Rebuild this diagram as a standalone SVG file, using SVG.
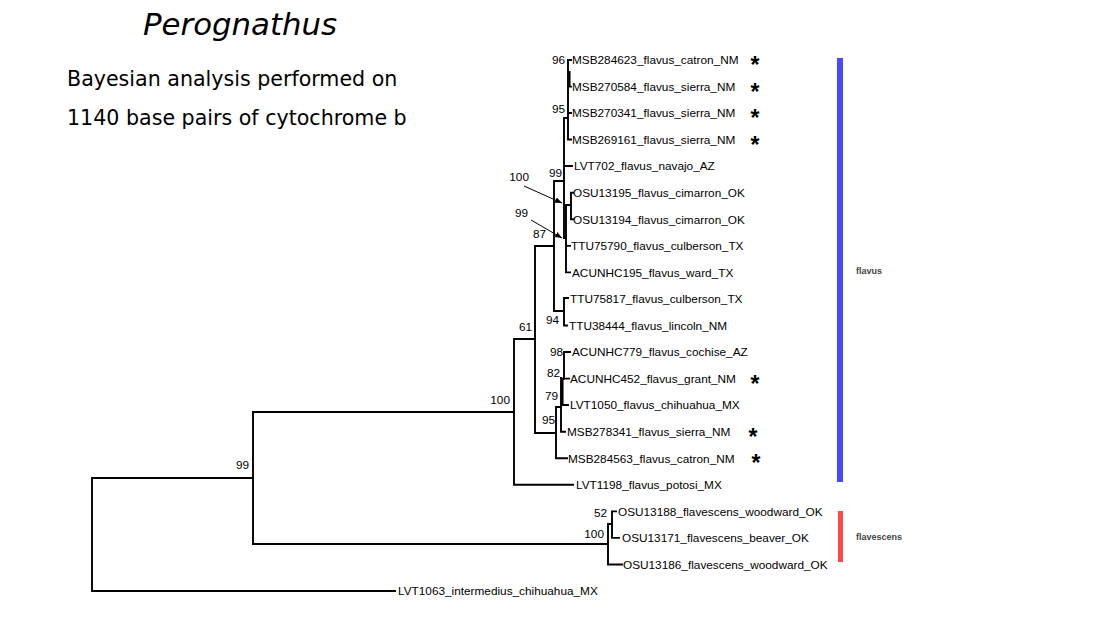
<svg xmlns="http://www.w3.org/2000/svg" width="1116" height="626" viewBox="0 0 1116 626">
<style>
.tip{font-family:"Liberation Sans",Arial,sans-serif;font-size:11.8px;fill:#000}
.bs{font-family:"Liberation Sans",Arial,sans-serif;font-size:11.8px;fill:#000;text-anchor:end}
.ast{font-family:"Liberation Sans",Arial,sans-serif;font-size:23px;font-weight:bold;fill:#000;text-anchor:middle}
.clade{font-family:"Liberation Sans",Arial,sans-serif;font-size:9px;font-weight:bold;fill:#444}
.head{font-family:"DejaVu Sans",Verdana,sans-serif;fill:#000}
.br{fill:none;stroke:#000;stroke-width:1.9;stroke-linecap:square}
.ar{fill:none;stroke:#000;stroke-width:1}
</style>
<defs>
<marker id="ah" viewBox="0 0 10 10" refX="10" refY="5" markerWidth="7" markerHeight="7" orient="auto" markerUnits="userSpaceOnUse">
<path d="M0,1 L10,5 L0,9 Z" fill="#000"/>
</marker>
</defs>
<rect width="1116" height="626" fill="#fff"/>
<g id="title">
<text class="head" x="143" y="35" font-size="30.8" font-style="italic">Perognathus</text>
<text class="head" x="67" y="86" font-size="20.6">Bayesian analysis performed on</text>
<text class="head" x="67" y="125" font-size="20.6">1140 base pairs of cytochrome b</text>
</g>
<g id="connectors">
<path class="br" d="M92,478 V591 M92,478 H253 M92,591 H395"/>
<path class="br" d="M253,412 V544 M253,412 H514 M253,544 H608"/>
<path class="br" d="M514,339 V484.8 M514,484.8 H573 M514,339 H535"/>
<path class="br" d="M535,246 V433 M535,246 H554 M535,433 H556"/>
<path class="br" d="M554,181 V311 M554,181 H564 M554,311 H564"/>
<path class="br" d="M564,298 V325.5 M564,298 H568 M564,325.5 H567"/>
<path class="br" d="M564,118 V238 M564,166 H572 M564,238 H566 M564,118 H568"/>
<path class="br" d="M568,60 V139.5 M568,60 H571 M568,86.6 H571 M568,113 H571 M568,139.5 H571"/>
<path class="br" d="M569.6,72 V86"/>
<path class="br" d="M566,205 V272.4 M566,205 H571 M566,245.9 H570 M566,272.4 H570"/>
<path class="br" d="M571,192.8 V219.3 M571,192.8 H573 M571,219.3 H573"/>
<path class="br" d="M556,407 V458.3 M556,458.3 H567 M556,407 H561"/>
<path class="br" d="M561,378 V431.7 M561,431.7 H565 M562.6,380 V405 M562,405 H568 M561,378.6 H564"/>
<path class="br" d="M564,352 V378.6 M564,352 H570 M564,378.6 H569"/>
<path class="br" d="M608,524 V564.5 M608,564.5 H622 M608,524 H612"/>
<path class="br" d="M612,511.4 V537.9 M612,511.4 H616 M612,537.9 H619"/>
<path class="ar" d="M524,186 L562,203" marker-end="url(#ah)"/>
<path class="ar" d="M531,220 L562,238" marker-end="url(#ah)"/>
</g>
<g id="support">
<text class="bs" x="565" y="64.2">96</text>
<text class="bs" x="565" y="113.2">95</text>
<text class="bs" x="562" y="177.2">99</text>
<text class="bs" x="529" y="181.2">100</text>
<text class="bs" x="528" y="217.2">99</text>
<text class="bs" x="546" y="238.2">87</text>
<text class="bs" x="559" y="324.2">94</text>
<text class="bs" x="532" y="331.2">61</text>
<text class="bs" x="563" y="356.2">98</text>
<text class="bs" x="560" y="377.2">82</text>
<text class="bs" x="558" y="400.2">79</text>
<text class="bs" x="555" y="424.2">95</text>
<text class="bs" x="510" y="404.2">100</text>
<text class="bs" x="249" y="469.2">99</text>
<text class="bs" x="607" y="517.2">52</text>
<text class="bs" x="604" y="538.2">100</text>
</g>
<g id="tip-MSB284623"><text class="tip" x="572" y="64.2">MSB284623_flavus_catron_NM</text><text class="ast" x="755" y="73">*</text></g>
<g id="tip-MSB270584"><text class="tip" x="572" y="90.8">MSB270584_flavus_sierra_NM</text><text class="ast" x="755" y="99.6">*</text></g>
<g id="tip-MSB270341"><text class="tip" x="572" y="117.2">MSB270341_flavus_sierra_NM</text><text class="ast" x="755" y="126">*</text></g>
<g id="tip-MSB269161"><text class="tip" x="572" y="143.7">MSB269161_flavus_sierra_NM</text><text class="ast" x="755" y="152.5">*</text></g>
<g id="tip-LVT702"><text class="tip" x="574" y="170.4">LVT702_flavus_navajo_AZ</text></g>
<g id="tip-OSU13195"><text class="tip" x="573" y="197">OSU13195_flavus_cimarron_OK</text></g>
<g id="tip-OSU13194"><text class="tip" x="573" y="223.5">OSU13194_flavus_cimarron_OK</text></g>
<g id="tip-TTU75790"><text class="tip" x="571" y="250.1">TTU75790_flavus_culberson_TX</text></g>
<g id="tip-ACUNHC195"><text class="tip" x="572" y="276.6">ACUNHC195_flavus_ward_TX</text></g>
<g id="tip-TTU75817"><text class="tip" x="570" y="303.2">TTU75817_flavus_culberson_TX</text></g>
<g id="tip-TTU38444"><text class="tip" x="569" y="329.7">TTU38444_flavus_lincoln_NM</text></g>
<g id="tip-ACUNHC779"><text class="tip" x="572" y="356.2">ACUNHC779_flavus_cochise_AZ</text></g>
<g id="tip-ACUNHC452"><text class="tip" x="570" y="382.8">ACUNHC452_flavus_grant_NM</text><text class="ast" x="755" y="391.6">*</text></g>
<g id="tip-LVT1050"><text class="tip" x="570" y="409.4">LVT1050_flavus_chihuahua_MX</text></g>
<g id="tip-MSB278341"><text class="tip" x="567" y="435.9">MSB278341_flavus_sierra_NM</text><text class="ast" x="753" y="444.7">*</text></g>
<g id="tip-MSB284563"><text class="tip" x="568" y="462.5">MSB284563_flavus_catron_NM</text><text class="ast" x="756" y="471.3">*</text></g>
<g id="tip-LVT1198"><text class="tip" x="576" y="489">LVT1198_flavus_potosi_MX</text></g>
<g id="tip-OSU13188"><text class="tip" x="618" y="515.6">OSU13188_flavescens_woodward_OK</text></g>
<g id="tip-OSU13171"><text class="tip" x="622" y="542.1">OSU13171_flavescens_beaver_OK</text></g>
<g id="tip-OSU13186"><text class="tip" x="623" y="568.7">OSU13186_flavescens_woodward_OK</text></g>
<g id="tip-LVT1063"><text class="tip" x="398" y="595.2">LVT1063_intermedius_chihuahua_MX</text></g>
<g id="clade-flavus"><rect x="837" y="58" width="6" height="424" fill="#4848ff"/><text class="clade" x="856" y="274.2">flavus</text></g>
<g id="clade-flavescens"><rect x="838" y="511" width="5" height="51" fill="#ff4848"/><text class="clade" x="856" y="540.2">flavescens</text></g>
</svg>
